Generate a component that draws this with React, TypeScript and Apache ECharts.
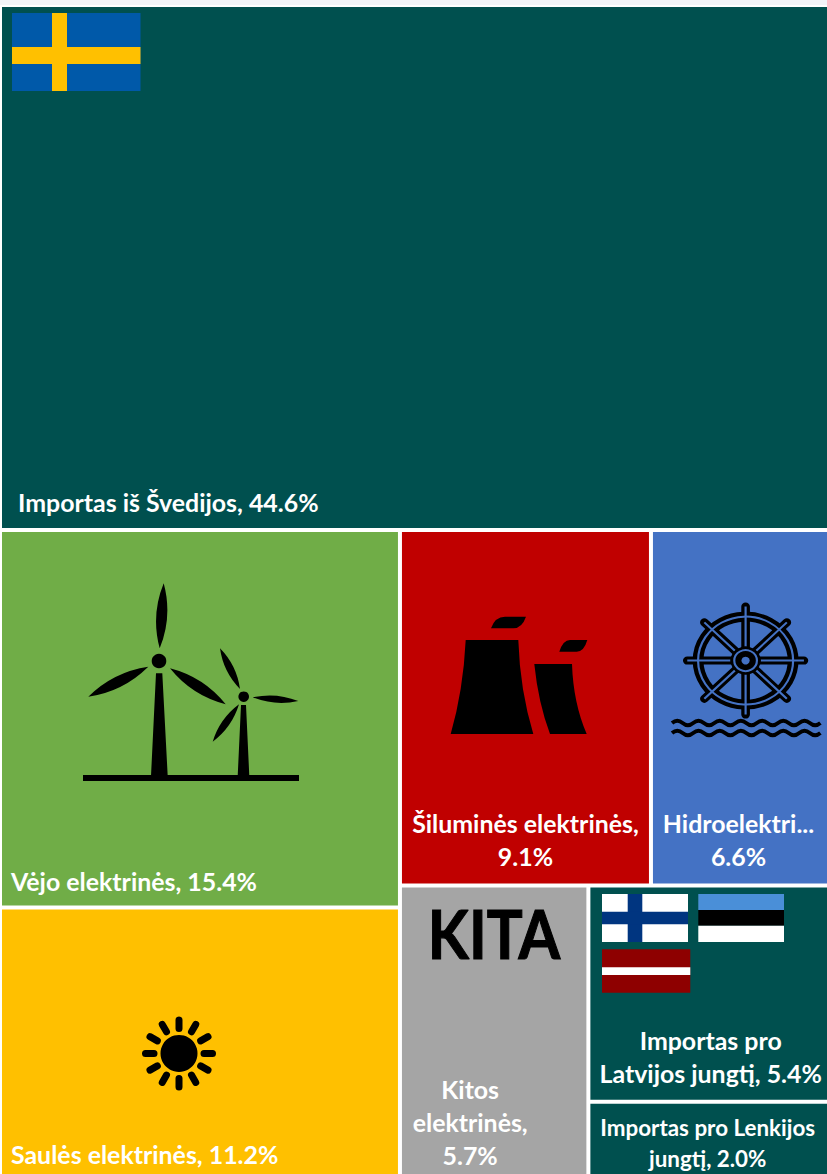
import React, { useEffect, useRef } from "react";
import * as echarts from "echarts";

const names = ["Importas iš Švedijos", "Vėjo elektrinės", "Saulės elektrinės", "Šiluminės elektrinės", "Hidroelektrinės", "Kitos elektrinės", "Importas pro Latvijos jungtį", "Importas pro Lenkijos jungtį"];
const values = [44.6, 15.4, 11.2, 9.1, 6.6, 5.7, 5.4, 2.0];
const labels = [
  "Importas iš Švedijos, 44.6%",
  "Vėjo elektrinės, 15.4%",
  "Saulės elektrinės, 11.2%",
  "Šiluminės elektrinės,\n9.1%",
  "Hidroelektri...\n6.6%",
  "Kitos\nelektrinės,\n5.7%",
  "Importas pro\nLatvijos jungtį, 5.4%",
  "Importas pro Lenkijos\njungtį, 2.0%",
];
const colors = ["#00504F", "#70AD47", "#FFC000", "#C00000", "#4472C4", "#A5A5A5", "#00504F", "#00504F"];
const labelStyles: any[] = [
  { position: "insideBottomLeft", padding: [0, 0, 9, 16], align: "left" },
  { position: "insideBottomLeft", padding: [0, 0, 8, 9], align: "left" },
  { position: "insideBottomLeft", padding: [0, 0, 10, 9], align: "left" },
  { position: "insideBottom", padding: [0, 0, 11, 0], align: "center" },
  { position: "insideBottom", padding: [0, 7, 11, 0], align: "center" },
  { position: "insideBottom", padding: [0, 48, 9, 0], align: "center" },
  { position: "insideBottom", padding: [0, 0, 10, 0], align: "center" },
  { position: "insideBottom", padding: [0, 6, 6, 0], align: "center", fontSize: 22.4, lineHeight: 31 },
];

function leaf(x1: number, y1: number, x2: number, y2: number, w: number) {
  const mx = (x1 + x2) / 2, my = (y1 + y2) / 2;
  const dx = x2 - x1, dy = y2 - y1, l = Math.hypot(dx, dy);
  const nx = -dy / l * w, ny = dx / l * w;
  return `M${x1} ${y1}Q${mx + nx} ${my + ny} ${x2} ${y2}Q${mx - nx} ${my - ny} ${x1} ${y1}Z`;
}

const windPath = [
  leaf(159.7, 648.3, 163.7, 583.3, 11),
  leaf(148.3, 666.7, 88.3, 696.7, 11),
  leaf(170, 668.3, 225.7, 704.3, 11),
  leaf(240, 689, 220, 648.3, 7.5),
  leaf(252.7, 697.3, 298.3, 701, 7),
  leaf(239, 704.3, 212.7, 741.7, 7.5),
  "M156 673.3L162.3 673.3L167.7 776L151 776Z",
  "M241 705L246 705L249.3 776L237.7 776Z",
  "M83 775H299V781H83Z",
].join("");

const thermalPath = [
  "M465.7 640L518.3 640Q520 690 533.3 734L450.7 734Q463.3 690 465.7 640Z",
  "M534.3 664L572 664Q573.3 703 586.7 734L550 734Q538.3 703 534.3 664Z",
  "M491 628.3Q495 616.7 505 616.7L526 616.7Q522 628.3 513.3 628.3Z",
  "M559.3 651.7Q563 640 570 640L587.3 640Q584 651.7 576.7 651.7Z",
].join("");

function spokes(cx: number, cy: number, r0: number, r1: number, step: number, offset: number) {
  let d = "";
  for (let a = offset; a < 360; a += step) {
    const t = (a * Math.PI) / 180;
    d += `M${cx + Math.cos(t) * r0} ${cy + Math.sin(t) * r0}L${cx + Math.cos(t) * r1} ${cy + Math.sin(t) * r1}`;
  }
  return d;
}
function wave(x: number, y: number, n: number) {
  let d = `M${x} ${y}q5.3 -4.5 10.6 0`;
  for (let i = 1; i < n; i++) d += "t10.6 0";
  return d;
}

echarts.graphic.registerShape("windIcon", echarts.graphic.extendPath(windPath, {}));
echarts.graphic.registerShape("thermalIcon", echarts.graphic.extendPath(thermalPath, {}));
echarts.graphic.registerShape("wheelBlack", echarts.graphic.extendPath(spokes(0, 0, 8, 54, 45, 0), {}));
echarts.graphic.registerShape("wheelBlue", echarts.graphic.extendPath(spokes(0, 0, 14, 54, 45, 0), {}));
echarts.graphic.registerShape("waves", echarts.graphic.extendPath(wave(672, 723, 14) + wave(672, 733, 14), {}));
echarts.graphic.registerShape("sunRays", echarts.graphic.extendPath(spokes(179, 1053.4, 25, 33.5, 30, 0), {}));

const Z = 100;
const rect = (x: number, y: number, width: number, height: number, fill: string) => ({ type: "rect", z: Z, silent: true, shape: { x, y, width, height }, style: { fill } });
const ring = (r: number, lineWidth: number, stroke: string) => ({ type: "circle", z: Z, silent: true, shape: { cx: 0, cy: 0, r }, style: { fill: "none", stroke, lineWidth } });
const disc = (r: number, fill: string) => ({ type: "circle", z: Z, silent: true, shape: { cx: 0, cy: 0, r }, style: { fill } });

const BLUE = "#4472C4";
const graphics: any[] = [
  // Sweden
  rect(12, 13, 128.5, 78, "#0059A9"), rect(52, 13, 15, 78, "#FFC000"), rect(12, 47, 128.5, 17, "#FFC000"),
  // Finland
  rect(602, 894, 86, 48, "#FFFFFF"), rect(627.7, 894, 14.6, 48, "#003580"), rect(602, 911.7, 86, 12.6, "#003580"),
  // Estonia
  rect(698.3, 894, 85.7, 16, "#4A8FD8"), rect(698.3, 910, 85.7, 15.7, "#000000"), rect(698.3, 925.7, 85.7, 16.3, "#FFFFFF"),
  // Latvia
  rect(602, 949.3, 88.3, 43.4, "#8E0000"), rect(602, 967.3, 88.3, 7.7, "#FFFFFF"),
  // Wind
  { type: "windIcon", z: Z, silent: true, style: { fill: "#000" } },
  { type: "circle", z: Z, silent: true, shape: { cx: 159, cy: 661, r: 7.3 }, style: { fill: "#000" } },
  { type: "circle", z: Z, silent: true, shape: { cx: 243.7, cy: 696.7, r: 5.3 }, style: { fill: "#000" } },
  // Thermal
  { type: "thermalIcon", z: Z, silent: true, style: { fill: "#000" } },
  // Hydro wheel
  {
    type: "group", x: 745.6, y: 660.6, scaleX: 1.08, silent: true,
    children: [
      { type: "wheelBlack", z: Z, silent: true, style: { fill: "none", stroke: "#000", lineWidth: 8, lineCap: "round" } },
      ring(44, 10, "#000"),
      ring(44, 2, BLUE),
      { type: "wheelBlue", z: Z, silent: true, style: { fill: "none", stroke: BLUE, lineWidth: 2 } },
      disc(14, "#000"), ring(10.5, 2, BLUE), disc(3.8, BLUE),
    ],
  },
  { type: "waves", z: Z, silent: true, style: { fill: "none", stroke: "#000", lineWidth: 3.8 } },
  // Sun
  { type: "circle", z: Z, silent: true, shape: { cx: 179, cy: 1053.4, r: 18.5 }, style: { fill: "#000" } },
  { type: "sunRays", z: Z, silent: true, style: { fill: "none", stroke: "#000", lineWidth: 7, lineCap: "round" } },
  // KITA
  { type: "text", z: Z, silent: true, x: 494, y: 933, scaleY: 1.12, originY: 0, style: { text: "KITA", fill: "#000", stroke: "#000", lineWidth: 1, font: "bold 60px Lato", textAlign: "center", textVerticalAlign: "middle" } },
  // strip at the very top of the picture
  rect(0, 0, 827, 5, "#F2F4F8"),
];

export default function App() {
  const ref = useRef<HTMLDivElement>(null);
  useEffect(() => {
    document.body.style.margin = "0";
    const chart = echarts.init(ref.current!, undefined, { renderer: "svg" });
    chart.setOption({
      animation: false,
      tooltip: { show: false },
      series: [
        {
          type: "treemap",
          left: 2, top: 7, right: -4, bottom: -6,
          roam: false,
          nodeClick: false,
          squareRatio: 1,
          breadcrumb: { show: false },
          sort: "desc",
          levels: [{ itemStyle: { gapWidth: 4, borderWidth: 0 } }],
          label: {
            show: true, color: "#fff", fontFamily: "Lato", fontWeight: "bold", fontSize: 24.9,
            lineHeight: 33, overflow: "none", distance: 0,
          },
          data: names.map((name, i) => ({
            name,
            value: values[i],
            itemStyle: { color: colors[i] },
            label: { formatter: labels[i], ...labelStyles[i] },
          })),
        },
      ],
      graphic: { elements: graphics },
    });
    return () => chart.dispose();
  }, []);
  return <div ref={ref} style={{ width: 827, height: 1174, background: "#fff" }} />;
}
